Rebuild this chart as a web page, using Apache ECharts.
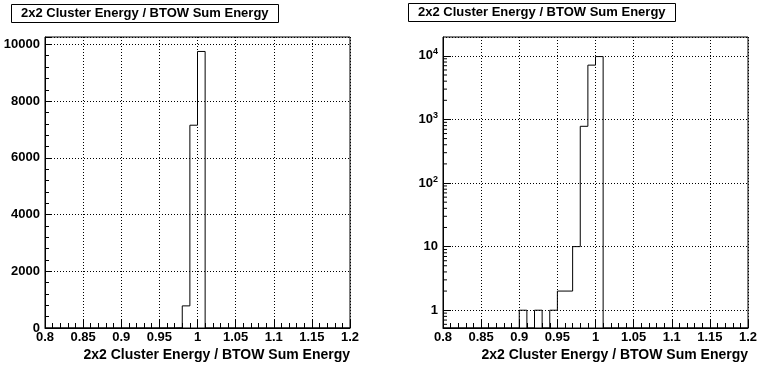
<!DOCTYPE html>
<html>
<head>
<meta charset="utf-8">
<script src="https://cdn.jsdelivr.net/npm/echarts@6/dist/echarts.min.js"></script>
<style>html,body{margin:0;padding:0;background:#fff}#c{width:776px;height:365px}</style>
</head>
<body>
<div id="c"></div>
<script>
// ---- data ----
const titleText = '2x2 Cluster Energy / BTOW Sum Energy';
const xTitle = '2x2 Cluster Energy / BTOW Sum Energy';
const binLow = [0.80,0.81,0.82,0.83,0.84,0.85,0.86,0.87,0.88,0.89,
                0.90,0.91,0.92,0.93,0.94,0.95,0.96,0.97,0.98,0.99,
                1.00,1.01,1.02,1.03,1.04,1.05,1.06,1.07,1.08,1.09,
                1.10,1.11,1.12,1.13,1.14,1.15,1.16,1.17,1.18,1.19];
const binHighLast = 1.20;
const counts = [0,0,0,0,0,0,0,0,0,0,
                1,0,1,0,1,2,2,10,780,7150,
                9750,0,0,0,0,0,0,0,0,0,
                0,0,0,0,0,0,0,0,0,0];
const logMinorTicks = [0.6,0.7,0.8,0.9,2,3,4,5,6,7,8,9,20,30,40,50,60,70,80,90,
                       200,300,400,500,600,700,800,900,2000,3000,4000,5000,6000,7000,8000,9000];

// ---- chart ----
const FONT = '"Liberation Sans", Arial, Helvetica, sans-serif';
const linMax = 10260, logMin = 0.525, logMax = 19800;

function stepPoints(floor) {
  const pts = binLow.map((x, i) => [x, Math.max(counts[i], floor)]);
  pts.push([binHighLast, Math.max(counts[counts.length - 1], floor)]);
  return pts;
}

const labelStyle = {color: '#000', fontFamily: FONT, fontWeight: 'bold', fontSize: 13};
const grid = {show: true, borderColor: '#000', borderWidth: 1, backgroundColor: '#fff'};
const split = {show: true, lineStyle: {color: '#000', width: 1, type: [1, 2]}};

function xAxis(idx) {
  return {
    type: 'value', gridIndex: idx, min: 0.8, max: 1.2, interval: 0.05,
    axisLine: {show: true, onZero: false, lineStyle: {color: '#000', width: 1}},
    axisTick: {show: true, inside: true, length: 9, lineStyle: {color: '#000'}},
    minorTick: {show: true, splitNumber: 5, length: 5, lineStyle: {color: '#000'}},
    axisLabel: Object.assign({margin: 3, formatter: v => String(parseFloat(v.toFixed(2)))}, labelStyle),
    splitLine: split,
    name: xTitle, nameLocation: 'end', nameGap: 0,
    nameTextStyle: {color: '#000', fontFamily: FONT, fontWeight: 'bold', fontSize: 14,
                    align: 'right', verticalAlign: 'top', padding: [20, 0, 0, 0]}
  };
}

const titleStyle = {color: '#000', fontFamily: FONT, fontWeight: 'bold', fontSize: 13};

const option = {
  animation: false,
  backgroundColor: '#fff',
  title: [
    {text: titleText, left: 11, top: 4, padding: [3, 10, 3, 10], borderColor: '#000', borderWidth: 1,
     textStyle: titleStyle},
    {text: titleText, left: 408, top: 3, padding: [3, 10, 3, 10], borderColor: '#000', borderWidth: 1,
     textStyle: titleStyle}
  ],
  grid: [
    Object.assign({left: 45, right: 426, top: 37, bottom: 37}, grid),
    Object.assign({left: 443, right: 28, top: 37, bottom: 37}, grid)
  ],
  xAxis: [xAxis(0), xAxis(1)],
  yAxis: [
    {type: 'value', gridIndex: 0, min: 0, max: linMax, interval: 2000,
     axisLine: {show: true, lineStyle: {color: '#000'}},
     axisTick: {show: true, inside: true, length: 7, lineStyle: {color: '#000'}},
     minorTick: {show: true, splitNumber: 5, length: 4, lineStyle: {color: '#000'}},
     axisLabel: Object.assign({margin: 5, showMaxLabel: false,
       formatter: v => (v % 2000 === 0 ? String(v) : '')}, labelStyle),
     splitLine: split},
    {type: 'log', logBase: 10, gridIndex: 1, min: logMin, max: logMax,
     axisLine: {show: true, lineStyle: {color: '#000'}},
     axisTick: {show: true, inside: true, length: 8, lineStyle: {color: '#000'}},
     axisLabel: Object.assign({margin: 5, showMinLabel: false, showMaxLabel: false,
       formatter: v => {
         const e = Math.round(Math.log10(v));
         if (Math.abs(Math.log10(v) - e) > 1e-6) return '';
         if (e <= 0) return '1';
         if (e === 1) return '10';
         return '10{sup|' + e + '}';
       },
       rich: {sup: {fontSize: 9, fontWeight: 'bold', fontFamily: FONT, color: '#000', verticalAlign: 'top', padding: [0, 0, 8, 0]}}
     }, labelStyle),
     splitLine: split}
  ],
  series: [
    {type: 'line', xAxisIndex: 0, yAxisIndex: 0, step: 'end', symbol: 'none', clip: true,
     lineStyle: {color: '#000', width: 1}, data: stepPoints(0), z: 5},
    {type: 'line', xAxisIndex: 1, yAxisIndex: 1, step: 'end', symbol: 'none', clip: true,
     lineStyle: {color: '#000', width: 1}, data: stepPoints(logMin), z: 5},
    {type: 'custom', xAxisIndex: 1, yAxisIndex: 1, silent: true, z: 6,
     data: logMinorTicks.map(v => [0.8, v]),
     renderItem: (params, api) => {
       const p = api.coord([api.value(0), api.value(1)]);
       return {type: 'line', shape: {x1: p[0], y1: p[1], x2: p[0] + 4, y2: p[1]},
               style: {stroke: '#000', lineWidth: 1}};
     }}
  ]
};

const chart = echarts.init(document.getElementById('c'), null, {renderer: 'canvas'});
chart.setOption(option);
</script>
</body>
</html>
